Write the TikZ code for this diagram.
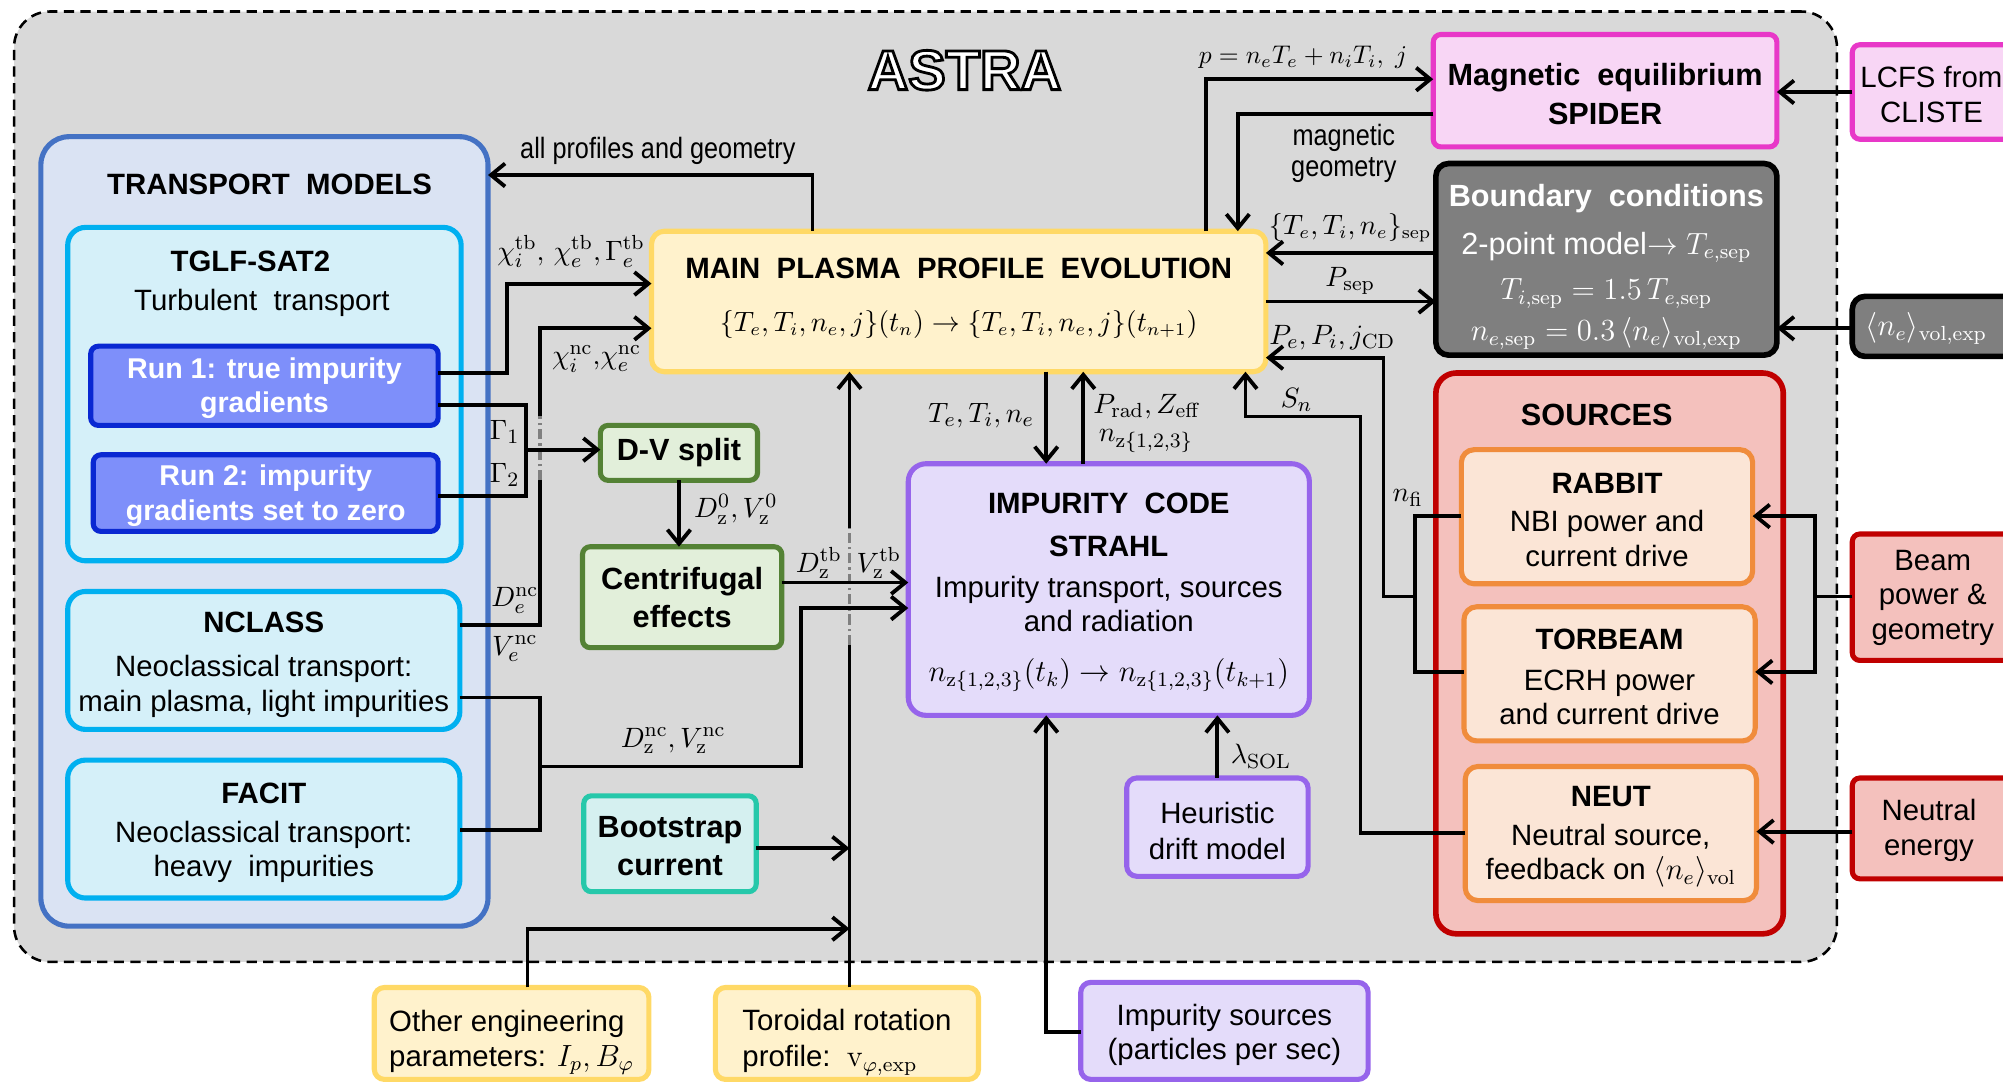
\documentclass[tikz,border=0pt]{standalone}
\usepackage[no-math]{fontspec}
\setmainfont{Liberation Sans}
\newfontfamily\narrowsans[FakeStretch=0.86]{Liberation Sans}
\usetikzlibrary{arrows.meta}
\definecolor{astraF}{RGB}{217,217,217}
\definecolor{tmB}{RGB}{68,114,196}
\definecolor{tmF}{RGB}{218,227,243}
\definecolor{cyB}{RGB}{0,176,240}
\definecolor{cyF}{RGB}{213,240,249}
\definecolor{ruB}{RGB}{10,40,210}
\definecolor{ruF}{RGB}{126,143,250}
\definecolor{yeB}{RGB}{255,217,102}
\definecolor{yeF}{RGB}{255,242,204}
\definecolor{grB}{RGB}{84,130,53}
\definecolor{grF}{RGB}{226,239,218}
\definecolor{tqB}{RGB}{38,200,170}
\definecolor{tqF}{RGB}{213,240,240}
\definecolor{puB}{RGB}{150,100,235}
\definecolor{puF}{RGB}{228,220,250}
\definecolor{mgB}{RGB}{232,56,200}
\definecolor{mgF}{RGB}{248,214,245}
\definecolor{bcF}{RGB}{127,127,127}
\definecolor{rdB}{RGB}{192,0,0}
\definecolor{rdF}{RGB}{244,193,189}
\definecolor{orB}{RGB}{240,140,60}
\definecolor{orF}{RGB}{251,229,214}
\definecolor{gapC}{RGB}{128,128,128}
\newcommand\fsreg{\fontsize{11.5}{13.5}\selectfont}
\newcommand\fsbig{\fontsize{12}{13.5}\selectfont\bfseries}
\newcommand\outlinetext[1]{\textcolor{white}{\special{pdf:code 2 Tr 1.1 w 0 G}#1\special{pdf:code 0 Tr}}}
% box from corners (x1,y1)-(x2,y2) in picture units; optional downward text shift
\newcommand\bx[8][0pt]{%
 \pgfmathsetmacro\bxw{(#6-#4)*0.5}%
 \pgfmathsetmacro\bxh{(#7-#5)*0.5}%
 \node[#2, minimum width=\bxw pt, minimum height=\bxh pt] (#3) at ({(#4+#6)/2},{(#5+#7)/2}) {};
 \node[#2, draw=none, fill=none, minimum width=0pt, minimum height=0pt] (#3text) at ([yshift=-#1]#3.center) {#8};}
\tikzset{
 base/.style={draw, inner sep=0pt, outer sep=0pt, align=center, font=\fsreg},
 tmodbox/.style={base, draw=tmB, fill=tmF, line width=2pt, rounded corners=11pt},
 cybox/.style={base, draw=cyB, fill=cyF, line width=2pt, rounded corners=7pt},
 runbox/.style={base, draw=ruB, fill=ruF, line width=2pt, rounded corners=3pt, text=white, font=\fontsize{11.2}{13.5}\selectfont\bfseries},
 yebox/.style={base, draw=yeB, fill=yeF, line width=2pt, rounded corners=4pt},
 grbox/.style={base, draw=grB, fill=grF, line width=2pt, rounded corners=3pt, font=\fsbig},
 tqbox/.style={base, draw=tqB, fill=tqF, line width=2pt, rounded corners=3pt, font=\fsbig},
 pubox/.style={base, draw=puB, fill=puF, line width=2pt, rounded corners=4pt},
 mgbox/.style={base, draw=mgB, fill=mgF, line width=2pt, rounded corners=3pt},
 gybox/.style={base, draw=black, fill=bcF, line width=2.2pt, rounded corners=5pt, text=white},
 rdbox/.style={base, draw=rdB, fill=rdF, line width=2pt, rounded corners=3pt},
 orbox/.style={base, draw=orB, fill=orF, line width=2pt, rounded corners=5pt},
 lab/.style={inner sep=0pt, outer sep=0pt, font=\fontsize{11}{13}\selectfont, align=center},
 ln/.style={line width=1.5pt},
 arr/.style={line width=1.5pt, -{Straight Barb[length=5.5pt,width=9pt]}},
 gapln/.style={line width=1.5pt, draw=gapC, dash pattern=on 4pt off 1.5pt on 1pt off 1.5pt},
}
\begin{document}
\begin{tikzpicture}[x=0.5pt,y=-0.5pt]
\useasboundingbox (0,0) rectangle (1568,847);
\clip (0,0) rectangle (1568,847);
% ASTRA frame
\bx{draw=black, fill=astraF, line width=1pt, dash pattern=on 4pt off 2.5pt, rounded corners=14pt, inner sep=0pt, outer sep=0pt}{astraframe}{11}{9}{1438}{753}{}
\node[inner sep=0pt, font=\fontsize{22}{24}\selectfont\bfseries] (astra) at (755,55) {\outlinetext{ASTRA}};
% transport models
\bx{tmodbox}{transport}{32}{107}{382}{725}{}
\node[lab, font=\fsreg\bfseries] (tmtitle) at (211,144) {TRANSPORT\ \ MODELS};
\bx{cybox}{tglf}{53}{178}{361}{439}{}
\node[lab, font=\fsreg\bfseries] (tglftitle) at (196,205) {TGLF-SAT2};
\node[lab, font=\fsreg] (tglfsub) at (205,237) {Turbulent\ \ transport};
\bx[1pt]{runbox}{run1}{71}{271}{343}{333}{Run 1: true impurity\\gradients}
\bx[1pt]{runbox}{run2}{73}{356}{343}{416}{Run 2: impurity\\gradients set to zero}
\bx[1.6pt]{cybox}{nclass}{53}{463}{360}{571}{\textbf{NCLASS}\\[4pt]Neoclassical transport:\\main plasma, light impurities}
\bx[1.5pt]{cybox}{facit}{53}{595}{360}{703}{\textbf{FACIT}\\[1.5pt]Neoclassical transport:\\heavy\ \ impurities}
% main plasma
\bx[-1.2pt]{yebox, rounded corners=5pt}{main}{510}{181}{991}{291}{\textbf{MAIN\ \ PLASMA\ \ PROFILE\ \ EVOLUTION}\\[7pt]{\fontsize{10.6}{12}\selectfont$\{T_e,T_i,n_e,j\}(t_n)\rightarrow\{T_e,T_i,n_e,j\}(t_{n+1})$}}
% green / teal
\bx{grbox}{dv}{470}{333}{593}{376}{D-V split}
\bx{grbox}{centri}{456}{428}{612}{507}{Centrifugal\\[1.5pt]effects}
\bx[1pt]{tqbox}{boot}{457}{623}{592}{698}{Bootstrap\\[1.5pt]current}
% impurity code
\bx[1pt]{pubox, rounded corners=7pt}{strahl}{711}{363}{1025}{560}{\textbf{IMPURITY\ \ CODE}\\[3.5pt]\textbf{STRAHL}\\[2.5pt]Impurity transport, sources\\and radiation\\[6pt]$n_{\mathrm{z}\{1,2,3\}}(t_k)\rightarrow n_{\mathrm{z}\{1,2,3\}}(t_{k+1})$}
\bx[1.5pt]{pubox}{heur}{882}{609}{1024}{686}{Heuristic\\[0.5pt]drift model}
\bx[1.5pt]{pubox}{impsrc}{846}{769}{1071}{845}{Impurity sources\\(particles per sec)}
% bottom yellow
\bx[3.5pt]{yebox, align=left}{other}{293}{773}{508}{845}{Other engineering\\parameters: $I_p, B_\varphi$}
\bx[3.5pt]{yebox, align=left}{toro}{560}{773}{766}{845}{Toroidal rotation\\[0.5pt]profile:\ \ $\mathrm{v}_{\varphi,\mathrm{exp}}$}
% right column
\bx[1.3pt]{mgbox, font=\fsbig}{spider}{1122}{27}{1391}{115}{Magnetic\ \ equilibrium\\[2pt]SPIDER}
\bx[3pt]{gybox, font=\fontsize{12}{13.5}\selectfont}{bc}{1124}{128}{1391}{278}{\textbf{Boundary\ \ conditions}\\[5pt]2-point model$\rightarrow T_{e,\mathrm{sep}}$\\[4.5pt]$T_{i,\mathrm{sep}}=1.5\,T_{e,\mathrm{sep}}$\\[2.5pt]$n_{e,\mathrm{sep}}=0.3\,\langle n_e\rangle_{\mathrm{vol,exp}}$}
\bx{rdbox, rounded corners=8pt, line width=2.2pt}{sources}{1124}{292}{1396}{731}{}
\node[lab, font=\fsbig] (srctitle) at (1250,325) {SOURCES};
\bx[1.3pt]{orbox}{rabbit}{1144}{352}{1372}{457}{\textbf{RABBIT}\\[1.5pt]NBI power and\\current drive}
\bx[1.3pt]{orbox}{torbeam}{1146}{475}{1374}{580}{\textbf{TORBEAM}\\[2.5pt]ECRH power\\and current drive}
\bx[1.3pt]{orbox}{neut}{1147}{600}{1375}{705}{\textbf{NEUT}\\[1.5pt]Neutral source,\\feedback on $\langle n_e\rangle_{\mathrm{vol}}$}
% outside boxes
\bx{mgbox}{lcfs}{1450}{35}{1620}{109}{}
\node[lab, font=\fsreg] (lcfstext) at (1512,74) {LCFS from\\[0.5pt]CLISTE};
\bx{gybox}{nevol}{1450}{232}{1620}{279}{}
\node[lab, text=white, font=\fontsize{12}{13.5}\selectfont] (nevoltext) at (1508,257) {$\langle n_e\rangle_{\mathrm{vol,exp}}$};
\bx{rdbox}{beam}{1450}{418}{1620}{517}{}
\node[lab, font=\fsreg] (beamtext) at (1513,468) {Beam\\power \&\\geometry};
\bx{rdbox}{neutral}{1450}{609}{1620}{688}{}
\node[lab, font=\fsreg] (neutraltext) at (1510,650) {Neutral\\[0.5pt]energy};
% junction coordinates
\coordinate (jtb) at (397,222);
\coordinate (jnc) at (423,326);
\coordinate (jnc2) at (423,376);
\coordinate (jg) at (412,352);
\coordinate (jdz) at (423,600);
\coordinate (jrot) at (665,413);
\coordinate (jrot2) at (665,505);
\coordinate (jboot) at (665,664);
\coordinate (jother) at (665,727);
\coordinate (jsrc) at (1108,467);
\coordinate (jbeam) at (1421,467);
% connectors
\draw[arr] (main.north -| 636,0) |- (transport.east |- 0,137);
\draw[arr] (run1.east |- 0,292) -| (jtb) -- (main.west |- jtb);
\draw[ln] (nclass.east |- 0,489) -| (jnc2);
\draw[gapln] (jnc2) -- (jnc);
\draw[arr] (jnc) |- (main.west |- 0,257);
\draw[ln] (run1.east |- 0,317) -| (412,388) -- (run2.east |- 0,388);
\draw[arr] (jg) -- (dv.west |- jg);
\draw[arr] (dv.south) -- (dv.south |- centri.north);
\draw[ln] (nclass.east |- 0,546) -| (423,650) -- (facit.east |- 0,650);
\draw[ln] (toro.north -| jrot2) -- (jrot2);
\draw[gapln] (jrot2) -- (jrot);
\draw[arr] (jrot) -- (main.south -| jrot);
\draw[arr] (centri.east |- 0,456) -- (strahl.west |- 0,456);
\draw[arr] (jdz) -| (627,476) -- (strahl.west |- 0,476);
\draw[arr] (boot.east |- jboot) -- (jboot);
\draw[arr] (other.north -| 413,0) |- (jother);
\draw[arr] (main.south -| 819,0) -- (strahl.north -| 819,0);
\draw[arr] (strahl.north -| 848,0) -- (main.south -| 848,0);
\draw[arr] (impsrc.west |- 0,808) -| (strahl.south -| 819,0);
\draw[arr] (heur.north -| 953,0) -- (strahl.south -| 953,0);
\draw[arr] (main.north -| 944,0) |- (spider.west |- 0,62);
\draw[arr] (spider.west |- 0,89) -| (main.north -| 969,0);
\draw[arr] (bc.west |- 0,198) -- (main.east |- 0,198);
\draw[arr] (main.east |- 0,236) -- (bc.west |- 0,236);
\draw[ln] (rabbit.west |- 0,404) -| (1108,526) -- (torbeam.west |- 0,526);
\draw[arr] (jsrc) -| (1083,280) -- (main.east |- 0,280);
\draw[arr] (neut.west |- 0,652) -| (1065,326) -| (main.south -| 975,0);
\draw[ln] (beam.west |- jbeam) -- (jbeam);
\draw[arr] (jbeam) |- (rabbit.east |- 0,404);
\draw[arr] (jbeam) |- (torbeam.east |- 0,526);
\draw[arr] (neutral.west |- 0,651) -- (neut.east |- 0,651);
\draw[arr] (nevol.west |- 0,257) -- (bc.east |- 0,257);
\draw[arr] (lcfs.west |- 0,72) -- (spider.east |- 0,72);
% labels
\node[lab, font=\fontsize{11.5}{13}\selectfont\narrowsans] (lprof) at (515,118) {all profiles and geometry};
\node[lab] (lchitb) at (447,197) {$\chi_i^{\mathrm{tb}},\,\chi_e^{\mathrm{tb}},\Gamma_e^{\mathrm{tb}}$};
\node[lab] (lchinc) at (467,281) {$\chi_i^{\mathrm{nc}},\!\chi_e^{\mathrm{nc}}$};
\node[lab] (lg1) at (395,338) {$\Gamma_1$};
\node[lab] (lg2) at (395,372) {$\Gamma_2$};
\node[lab] (lden) at (403,470) {$D_e^{\mathrm{nc}}$};
\node[lab] (lven) at (403,508) {$V_e^{\mathrm{nc}}$};
\node[lab] (ldz0) at (576,399) {$D_{\mathrm{z}}^{0},V_{\mathrm{z}}^{0}$};
\node[lab] (ldztb) at (641,441) {$D_{\mathrm{z}}^{\mathrm{tb}}$};
\node[lab] (lvztb) at (688,441) {$V_{\mathrm{z}}^{\mathrm{tb}}$};
\node[lab] (ldznc) at (527,580) {$D_{\mathrm{z}}^{\mathrm{nc}},V_{\mathrm{z}}^{\mathrm{nc}}$};
\node[lab] (ltti) at (768,325) {$T_e,T_i,n_e$};
\node[lab] (lprad) at (898,318) {$P_{\mathrm{rad}},Z_{\mathrm{eff}}$};
\node[lab] (lnz) at (897,345) {$n_{\mathrm{z}\{1,2,3\}}$};
\node[lab] (llam) at (987,592) {$\lambda_{\mathrm{SOL}}$};
\node[lab, font=\fontsize{10}{12}\selectfont] (lp) at (1020,45) {$p=n_eT_e+n_iT_i,\ j$};
\node[lab, font=\fontsize{11.5}{12}\selectfont\narrowsans] (lmag) at (1052,120) {magnetic\\geometry};
\node[lab, font=\fontsize{10.5}{12}\selectfont] (ltsep) at (1057,178) {$\{T_e,T_i,n_e\}_{\mathrm{sep}}$};
\node[lab] (lpsep) at (1057,220) {$P_{\mathrm{sep}}$};
\node[lab] (lpe) at (1043,264) {$P_e,P_i,j_{\mathrm{CD}}$};
\node[lab] (lsn) at (1015,313) {$S_n$};
\node[lab] (lnfi) at (1102,390) {$n_{\mathrm{fi}}$};
\end{tikzpicture}
\end{document}
